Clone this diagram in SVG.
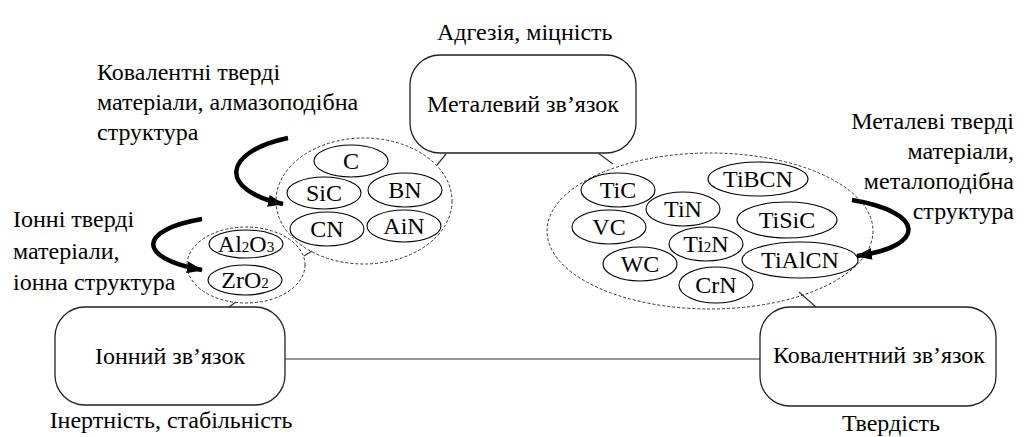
<svg xmlns="http://www.w3.org/2000/svg" width="1031" height="437" viewBox="0 0 1031 437">
<style>
.t{font-family:"Liberation Serif","Times New Roman",Times,serif;font-size:24px;fill:#000}
.m{text-anchor:middle}
.e{text-anchor:end}
.s{font-size:15px}
.box{fill:#fff;stroke:#222;stroke-width:1.3}
.grp{fill:none;stroke:#333;stroke-width:1;stroke-dasharray:3 2}
.el{fill:none;stroke:#000;stroke-width:1.1}
.cn{stroke:#333;stroke-width:1.2;fill:none}
.arr{fill:none;stroke:#000;stroke-width:4.5}
</style>
<defs>
<marker id="ah" markerUnits="userSpaceOnUse" markerWidth="16" markerHeight="12" refX="15" refY="6" orient="auto">
<path d="M0,0 L16,6 L0,12 z" fill="#000"/>
</marker>
</defs>
<rect width="1031" height="437" fill="#fff"/>

<g id="connectors">
<line class="cn" x1="285" y1="359" x2="760" y2="359"/>
<line class="cn" x1="446" y1="154" x2="437" y2="165"/>
<line class="cn" x1="598" y1="153" x2="613" y2="164"/>
<line class="cn" x1="799" y1="292" x2="816" y2="307"/>
<line class="cn" x1="304" y1="256" x2="312" y2="251"/>
<line class="cn" x1="229" y1="307" x2="236" y2="302"/>
<path class="arr" d="M288,138 C222,152 218,190 283,204" marker-end="url(#ah)"/>
<path class="arr" d="M202,219 C138,230 136,258 202,270" marker-end="url(#ah)"/>
<path class="arr" d="M852,200 C925,212 928,246 857,256" marker-end="url(#ah)"/>
</g>

<g id="label-adhesion"><text class="t" x="437" y="40">Адгезія, міцність</text></g>

<g id="node-metal">
<rect class="box" x="410" y="55" width="226" height="98" rx="30"/>
<text class="t m" x="523" y="112">Металевий зв’язок</text>
</g>

<g id="node-ionic">
<rect class="box" x="55" y="307" width="230" height="98" rx="30"/>
<text class="t m" x="170" y="364">Іонний зв’язок</text>
<text class="t m" x="171" y="428">Інертність, стабільність</text>
</g>

<g id="node-covalent">
<rect class="box" x="760" y="307" width="236" height="99" rx="30"/>
<text class="t m" x="879" y="363">Ковалентний зв’язок</text>
<text class="t m" x="891" y="431">Твердість</text>
</g>

<g id="label-covalent-hard">
<text class="t" x="97" y="80">Ковалентні тверді</text>
<text class="t" x="97" y="110">матеріали, алмазоподібна</text>
<text class="t" x="97" y="140">структура</text>
</g>

<g id="label-ionic-hard">
<text class="t" x="13" y="227">Іонні тверді</text>
<text class="t" x="13" y="259">матеріали,</text>
<text class="t" x="13" y="290">іонна структура</text>
</g>

<g id="label-metal-hard">
<text class="t e" x="1014" y="129">Металеві тверді</text>
<text class="t e" x="1014" y="159">матеріали,</text>
<text class="t e" x="1014" y="189">металоподібна</text>
<text class="t e" x="1014" y="219">структура</text>
</g>

<g id="group-covalent">
<ellipse class="grp" cx="364" cy="201" rx="88" ry="63"/>
<ellipse class="el" cx="351" cy="161" rx="37" ry="16"/><text class="t m" x="351" y="169">C</text>
<ellipse class="el" cx="324" cy="193" rx="37" ry="16"/><text class="t m" x="324" y="201">SiC</text>
<ellipse class="el" cx="405" cy="190" rx="37" ry="17"/><text class="t m" x="405" y="198">BN</text>
<ellipse class="el" cx="327" cy="229" rx="37" ry="17"/><text class="t m" x="327" y="237">CN</text>
<ellipse class="el" cx="404" cy="226" rx="37" ry="16"/><text class="t m" x="404" y="234">AiN</text>
</g>

<g id="group-ionic">
<ellipse class="grp" cx="246" cy="265" rx="59" ry="38"/>
<ellipse class="el" cx="246" cy="244" rx="37" ry="14"/><text class="t m" x="246" y="252">Al<tspan class="s">2</tspan>O<tspan class="s">3</tspan></text>
<ellipse class="el" cx="245" cy="280" rx="37" ry="15"/><text class="t m" x="245" y="288">ZrO<tspan class="s">2</tspan></text>
</g>

<g id="group-metal">
<ellipse class="grp" cx="710" cy="231" rx="163" ry="78"/>
<ellipse class="el" cx="618" cy="190" rx="37" ry="17"/><text class="t m" x="618" y="198">TiC</text>
<ellipse class="el" cx="683" cy="209" rx="37" ry="17"/><text class="t m" x="683" y="217">TiN</text>
<ellipse class="el" cx="758" cy="179" rx="50" ry="17"/><text class="t m" x="758" y="187">TiBCN</text>
<ellipse class="el" cx="609" cy="227" rx="37" ry="17"/><text class="t m" x="609" y="235">VC</text>
<ellipse class="el" cx="787" cy="220" rx="50" ry="18"/><text class="t m" x="787" y="228">TiSiC</text>
<ellipse class="el" cx="706" cy="244" rx="37" ry="17"/><text class="t m" x="706" y="252">Ti<tspan class="s">2</tspan>N</text>
<ellipse class="el" cx="640" cy="264" rx="37" ry="17"/><text class="t m" x="640" y="272">WC</text>
<ellipse class="el" cx="800" cy="260" rx="58" ry="18"/><text class="t m" x="800" y="268">TiAlCN</text>
<ellipse class="el" cx="716" cy="285" rx="37" ry="18"/><text class="t m" x="716" y="293">CrN</text>
</g>
</svg>
